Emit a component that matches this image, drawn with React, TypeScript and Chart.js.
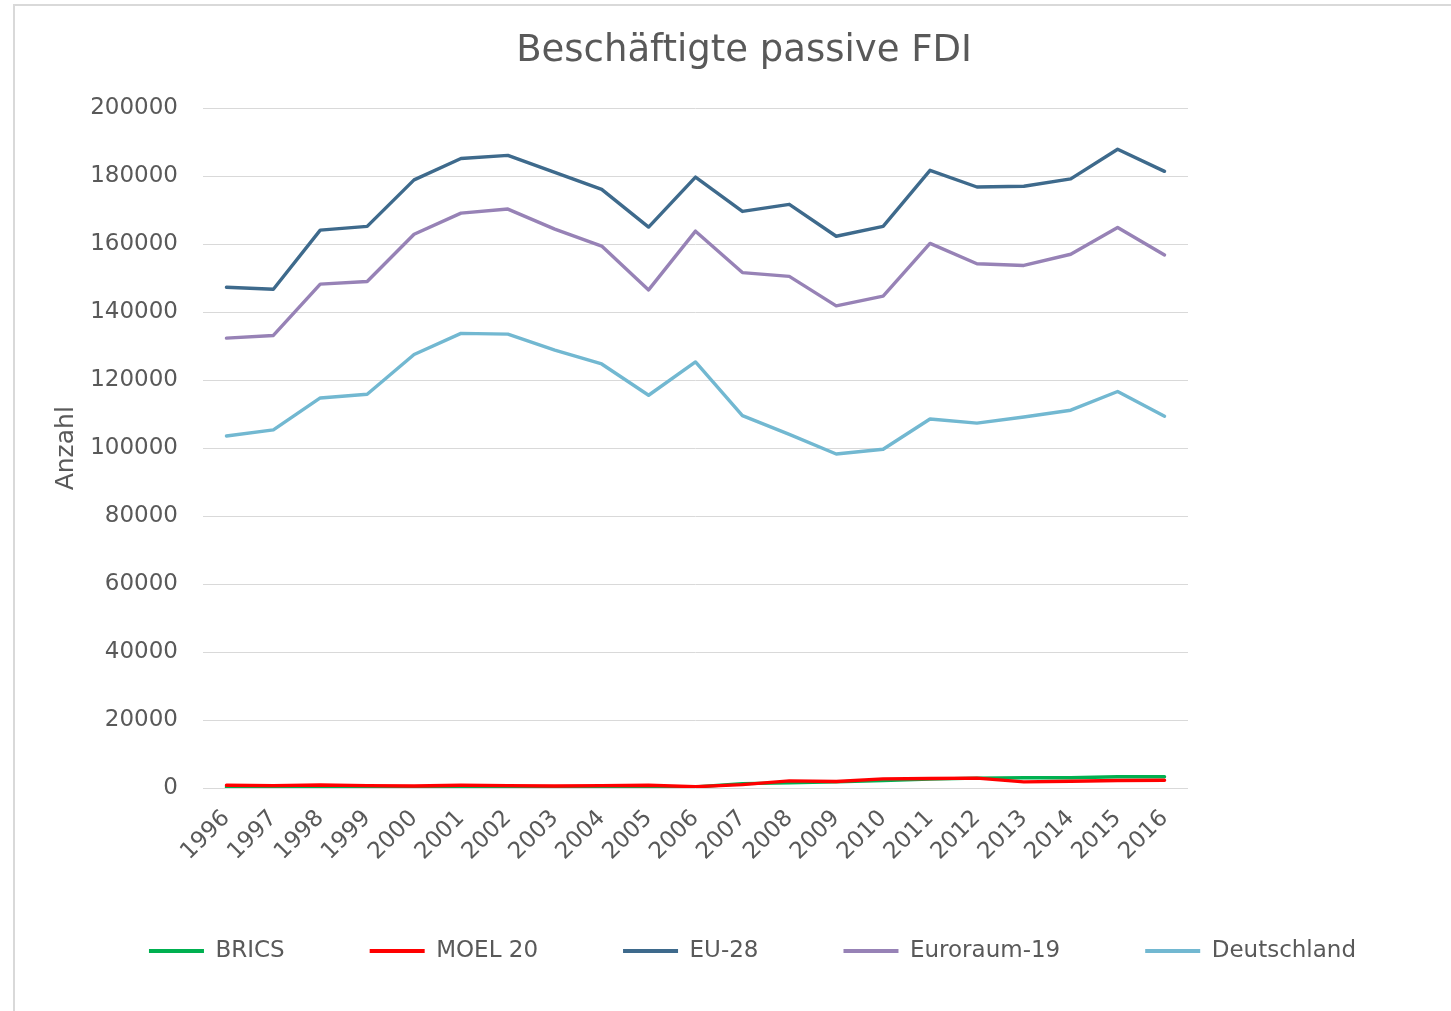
import React, { useEffect, useRef } from "react";
import { Chart, registerables } from "chart.js";

Chart.register(...registerables);

const TITLE = "Beschäftigte passive FDI";
const Y_TITLE = "Anzahl";
const YEARS = ["1996","1997","1998","1999","2000","2001","2002","2003","2004","2005","2006","2007","2008","2009","2010","2011","2012","2013","2014","2015","2016"];

const BRICS = [300, 300, 300, 350, 300, 300, 300, 250, 250, 300, 300, 1300, 1500, 1800, 2200, 2600, 2900, 3000, 3000, 3300, 3300];
const MOEL20 = [800, 700, 900, 700, 600, 800, 700, 600, 700, 800, 400, 1000, 2100, 1900, 2700, 2800, 2900, 1800, 2000, 2200, 2300];
const EU28 = [147400, 146800, 164200, 165300, 179000, 185300, 186200, 181200, 176200, 165100, 179800, 169700, 171800, 162400, 165300, 181800, 176900, 177100, 179300, 188000, 181500];
const EURO19 = [132400, 133200, 148300, 149100, 163000, 169200, 170400, 164500, 159500, 146600, 163900, 151700, 150600, 141900, 144800, 160300, 154300, 153800, 157100, 165000, 156900];
const DEUTSCHLAND = [103600, 105400, 114800, 115900, 127600, 133800, 133600, 128900, 124800, 115600, 125400, 109600, 104100, 98300, 99700, 108600, 107400, 109200, 111200, 116700, 109400];

const Y_TICKS = [0, 20000, 40000, 60000, 80000, 100000, 120000, 140000, 160000, 180000, 200000];

const FONT = "'DejaVu Sans', Verdana, sans-serif";
const TEXT = "#595959";

const titlePlugin = {
  id: "customTitle",
  afterDraw(chart: any) {
    const ctx = chart.ctx;
    ctx.save();
    ctx.font = `37px ${FONT}`;
    ctx.fillStyle = TEXT;
    ctx.textAlign = "center";
    ctx.textBaseline = "middle";
    ctx.fillText(TITLE, 744, 51);
    ctx.restore();
  },
};

// moves the legend row up so it sits where the reference has it
const legendShift = {
  id: "legendShift",
  afterLayout(chart: any) {
    const l = chart.legend;
    if (l) {
      l.top -= 13.5;
      l.bottom -= 13.5;
    }
  },
};

export default function App() {
  const ref = useRef<HTMLCanvasElement | null>(null);

  useEffect(() => {
    if (!ref.current) return;
    const mk = (label: string, data: number[], color: string, order: number) => ({
      label,
      data,
      borderColor: color,
      backgroundColor: color,
      borderWidth: 3.4,
      pointRadius: 0,
      pointHoverRadius: 0,
      tension: 0,
      fill: false,
      order,
      borderCapStyle: "round" as const,
      borderJoinStyle: "round" as const,
    });
    const chart = new Chart(ref.current, {
      type: "line",
      data: {
        labels: YEARS,
        datasets: [
          mk("BRICS", BRICS, "#00B050", 5),
          mk("MOEL 20", MOEL20, "#FF0000", 4),
          mk("EU-28", EU28, "#3E6A8C", 3),
          mk("Euroraum-19", EURO19, "#9782B6", 2),
          mk("Deutschland", DEUTSCHLAND, "#72B8D1", 1),
        ],
      },
      options: {
        responsive: false,
        animation: false,
        devicePixelRatio: 1,
        layout: { padding: { left: 60, right: 6, top: 108.5, bottom: 25 } },
        plugins: {
          title: { display: false },
          tooltip: { enabled: false },
          legend: {
            display: true,
            position: "bottom",
            labels: {
              boxWidth: 55,
              boxHeight: 4,
              padding: 85,
              color: TEXT,
              font: { family: FONT, size: 23 },
              sort: (a: any, b: any) => a.datasetIndex - b.datasetIndex,
              generateLabels: (chart: any) => {
                const items = Chart.defaults.plugins.legend.labels.generateLabels(chart);
                return items.map((it: any) => ({ ...it, lineWidth: 0, strokeStyle: "rgba(0,0,0,0)" }));
              },
            },
          },
        },
        scales: {
          x: {
            type: "category",
            offset: true,
            grid: { display: false, drawTicks: false },
            border: { display: false },
            ticks: {
              color: TEXT,
              font: { family: FONT, size: 23 },
              minRotation: 45,
              maxRotation: 45,
              autoSkip: false,
              padding: 17,
            },
            afterFit: (s: any) => {
              s.height = 80;
            },
          },
          y: {
            min: 0,
            max: 200000,
            position: "left",
            grid: { color: "#d9d9d9", lineWidth: 1, drawTicks: false },
            border: { display: false },
            afterBuildTicks: (s: any) => {
              s.ticks = Y_TICKS.map((v) => ({ value: v }));
            },
            ticks: {
              color: TEXT,
              font: { family: FONT, size: 23 },
              padding: 25,
              callback: (v: any) => String(v),
            },
            title: {
              display: true,
              text: Y_TITLE,
              color: TEXT,
              font: { family: FONT, size: 25, lineHeight: 1.2 },
              padding: { top: -9, bottom: 0 },
            },
            afterFit: (s: any) => {
              s.width = 143;
            },
          },
          yR: {
            position: "right",
            display: true,
            grid: { display: false, drawTicks: false },
            border: { display: false },
            ticks: { display: false },
            afterFit: (s: any) => {
              s.width = 257;
            },
          },
        },
      },
      plugins: [titlePlugin, legendShift],
    });
    return () => chart.destroy();
  }, []);

  return (
    <div style={{ position: "absolute", left: 0, top: 0, width: 1451, height: 1011, overflow: "hidden", background: "#fff" }}>
      <div
        style={{
          position: "absolute",
          left: 13,
          top: 4,
          width: 1451,
          height: 1011,
          borderLeft: "2px solid #d9d9d9",
          borderTop: "2px solid #d9d9d9",
        }}
      />
      <canvas ref={ref} width={1451} height={1011} style={{ position: "absolute", left: 0, top: 0, width: 1451, height: 1011 }} />
    </div>
  );
}
